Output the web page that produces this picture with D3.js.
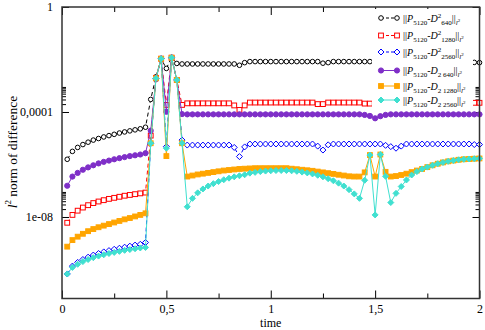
<!DOCTYPE html>
<html>
<head>
<meta charset="utf-8">
<script src="https://cdn.jsdelivr.net/npm/d3@7"></script>
<style>
  body { margin: 0; background: #fff; }
  svg text { font-family: "Liberation Serif", "Times New Roman", "DejaVu Serif", serif !important; }
</style>
</head>
<body>
<svg width="485" height="330"></svg>
<script>
// time steps
const times = [0.025, 0.05, 0.075, 0.1, 0.125, 0.15, 0.175, 0.2, 0.225, 0.25,
  0.275, 0.3, 0.325, 0.35, 0.375, 0.4, 0.425, 0.45, 0.475, 0.5,
  0.525, 0.55, 0.575, 0.6, 0.625, 0.65, 0.675, 0.7, 0.725, 0.75,
  0.775, 0.8, 0.825, 0.85, 0.875, 0.9, 0.925, 0.95, 0.975, 1.0,
  1.025, 1.05, 1.075, 1.1, 1.125, 1.15, 1.175, 1.2, 1.225, 1.25,
  1.275, 1.3, 1.325, 1.35, 1.375, 1.4, 1.425, 1.45, 1.475, 1.5,
  1.525, 1.55, 1.575, 1.6, 1.625, 1.65, 1.675, 1.7, 1.725, 1.75,
  1.775, 1.8, 1.825, 1.85, 1.875, 1.9, 1.925, 1.95, 1.975, 2.0];

// ||P5120 - D^2 640||
const dsq640 = [1.58e-6, 3.16e-6, 4.47e-6, 5.75e-6, 7.08e-6, 8.51e-6, 9.77e-6, 1.12e-5, 1.26e-5, 1.41e-5,
  1.58e-5, 1.74e-5, 1.91e-5, 2.09e-5, 2.29e-5, 2.63e-5, 3.02e-4, 2.19e-3, 1.05e-2, 4.57e-3,
  1.20e-2, 7.08e-3, 6.76e-3, 6.76e-3, 6.76e-3, 6.76e-3, 6.76e-3, 6.76e-3, 6.76e-3, 6.76e-3,
  6.76e-3, 6.76e-3, 6.76e-3, 6.03e-3, 7.59e-3, 8.32e-3, 8.32e-3, 8.32e-3, 8.32e-3, 8.32e-3,
  8.32e-3, 8.32e-3, 8.32e-3, 8.32e-3, 8.32e-3, 8.32e-3, 8.32e-3, 8.32e-3, 8.32e-3, 7.24e-3,
  7.59e-3, 8.32e-3, 8.32e-3, 8.32e-3, 8.32e-3, 8.32e-3, 8.32e-3, 8.32e-3, 8.32e-3, 8.32e-3,
  8.32e-3, 8.32e-3, 8.32e-3, 8.32e-3, 8.32e-3, 8.32e-3, 8.32e-3, 8.32e-3, 8.32e-3, 8.32e-3,
  8.32e-3, 8.32e-3, 8.32e-3, 8.32e-3, 8.32e-3, 8.32e-3, 8.32e-3, 8.32e-3, 7.76e-3, 7.59e-3];

// ||P5120 - D^2 1280||
const dsq1280 = [6.03e-9, 1.20e-8, 1.74e-8, 2.29e-8, 2.82e-8, 3.39e-8, 3.89e-8, 4.37e-8, 4.90e-8, 5.37e-8,
  5.89e-8, 6.46e-8, 6.92e-8, 7.41e-8, 7.94e-8, 8.51e-8, 1.26e-5, 2.00e-3, 1.07e-2, 1.86e-4,
  1.17e-2, 1.66e-3, 1.86e-4, 2.14e-4, 2.14e-4, 2.14e-4, 2.14e-4, 2.14e-4, 2.14e-4, 2.14e-4,
  2.14e-4, 2.14e-4, 1.78e-4, 1.20e-4, 1.78e-4, 2.29e-4, 2.29e-4, 2.29e-4, 2.29e-4, 2.29e-4,
  2.29e-4, 2.29e-4, 2.29e-4, 2.29e-4, 2.29e-4, 2.29e-4, 2.29e-4, 2.29e-4, 2.00e-4, 2.00e-4,
  2.29e-4, 2.29e-4, 2.29e-4, 2.29e-4, 2.29e-4, 2.29e-4, 2.29e-4, 2.09e-4, 2.09e-4, 2.24e-4,
  2.24e-4, 2.24e-4, 2.24e-4, 2.24e-4, 2.24e-4, 2.24e-4, 2.24e-4, 2.24e-4, 2.24e-4, 2.24e-4,
  2.24e-4, 2.24e-4, 2.24e-4, 2.24e-4, 2.24e-4, 2.24e-4, 2.24e-4, 2.24e-4, 2.24e-4, 2.24e-4];

// ||P5120 - D^2 2560||
const dsq2560 = [6.76e-11, 1.35e-10, 1.86e-10, 2.40e-10, 2.95e-10, 3.55e-10, 4.07e-10, 4.68e-10, 5.25e-10, 5.89e-10,
  6.46e-10, 7.08e-10, 7.76e-10, 8.51e-10, 9.12e-10, 1.07e-9, 6.46e-6, 1.91e-3, 1.07e-2, 4.79e-6,
  1.17e-2, 1.66e-3, 8.51e-6, 5.50e-6, 5.50e-6, 5.50e-6, 5.50e-6, 5.50e-6, 5.50e-6, 5.50e-6,
  5.50e-6, 5.50e-6, 4.47e-6, 2.00e-6, 4.68e-6, 6.03e-6, 6.03e-6, 6.03e-6, 6.03e-6, 6.03e-6,
  6.03e-6, 6.03e-6, 6.03e-6, 6.03e-6, 6.03e-6, 6.03e-6, 6.03e-6, 6.03e-6, 5.01e-6, 3.55e-6,
  5.62e-6, 6.03e-6, 6.03e-6, 6.03e-6, 6.03e-6, 6.03e-6, 6.03e-6, 6.03e-6, 6.03e-6, 6.03e-6,
  6.03e-6, 5.37e-6, 4.79e-6, 4.17e-6, 5.01e-6, 6.03e-6, 6.03e-6, 6.03e-6, 6.03e-6, 6.03e-6,
  6.03e-6, 6.03e-6, 6.03e-6, 6.03e-6, 6.03e-6, 6.03e-6, 6.03e-6, 6.03e-6, 5.75e-6, 5.75e-6];

// ||P5120 - D_2 640||
const d2_640 = [1.55e-7, 3.47e-7, 4.79e-7, 6.31e-7, 7.76e-7, 9.33e-7, 1.10e-6, 1.26e-6, 1.41e-6, 1.58e-6,
  1.74e-6, 1.91e-6, 2.09e-6, 2.24e-6, 2.40e-6, 2.69e-6, 1.95e-5, 1.78e-3, 1.07e-2, 1.02e-4,
  1.17e-2, 1.66e-3, 8.32e-5, 8.13e-5, 8.13e-5, 8.13e-5, 8.13e-5, 8.13e-5, 8.13e-5, 8.13e-5,
  8.13e-5, 8.13e-5, 8.13e-5, 8.13e-5, 8.13e-5, 8.13e-5, 8.13e-5, 8.13e-5, 8.13e-5, 8.13e-5,
  8.13e-5, 8.13e-5, 8.13e-5, 8.13e-5, 8.13e-5, 8.13e-5, 8.13e-5, 8.13e-5, 8.13e-5, 8.13e-5,
  8.13e-5, 8.13e-5, 8.13e-5, 8.13e-5, 8.13e-5, 8.13e-5, 8.13e-5, 7.76e-5, 7.08e-5, 5.75e-5,
  6.92e-5, 7.76e-5, 8.13e-5, 8.13e-5, 8.13e-5, 8.13e-5, 8.13e-5, 8.13e-5, 8.13e-5, 8.13e-5,
  8.13e-5, 8.13e-5, 8.13e-5, 8.13e-5, 8.13e-5, 8.13e-5, 8.13e-5, 8.13e-5, 8.13e-5, 8.13e-5];

// ||P5120 - D_2 1280||
const d2_1280 = [7.41e-10, 1.32e-9, 1.78e-9, 2.29e-9, 2.88e-9, 3.47e-9, 4.07e-9, 4.68e-9, 5.37e-9, 6.17e-9,
  7.08e-9, 8.13e-9, 9.12e-9, 1.05e-8, 1.20e-8, 1.38e-8, 6.46e-6, 1.91e-3, 1.07e-2, 2.09e-6,
  1.17e-2, 1.66e-3, 6.46e-6, 3.47e-7, 3.80e-7, 4.17e-7, 4.47e-7, 4.79e-7, 5.13e-7, 5.50e-7,
  5.89e-7, 6.17e-7, 6.46e-7, 6.76e-7, 6.92e-7, 7.08e-7, 7.24e-7, 7.24e-7, 7.24e-7, 7.24e-7,
  7.24e-7, 7.24e-7, 7.24e-7, 6.92e-7, 6.61e-7, 6.31e-7, 6.03e-7, 5.75e-7, 5.37e-7, 5.01e-7,
  4.68e-7, 4.37e-7, 4.07e-7, 3.80e-7, 3.55e-7, 3.47e-7, 3.47e-7, 5.01e-7, 2.29e-6, 3.47e-7,
  2.40e-6, 5.25e-7, 3.47e-7, 3.63e-7, 3.98e-7, 4.47e-7, 5.13e-7, 5.89e-7, 6.76e-7, 7.94e-7,
  9.33e-7, 1.07e-6, 1.20e-6, 1.32e-6, 1.41e-6, 1.51e-6, 1.58e-6, 1.62e-6, 1.66e-6, 1.70e-6];

// ||P5120 - D_2 2560||
const d2_2560 = [6.76e-11, 1.20e-10, 1.58e-10, 2.00e-10, 2.40e-10, 2.82e-10, 3.24e-10, 3.63e-10, 4.07e-10, 4.47e-10,
  4.90e-10, 5.37e-10, 5.75e-10, 6.17e-10, 6.61e-10, 6.92e-10, 6.46e-6, 1.91e-3, 1.07e-2, 4.17e-6,
  1.17e-2, 1.66e-3, 6.46e-6, 2.45e-8, 5.13e-8, 8.32e-8, 1.17e-7, 1.51e-7, 1.86e-7, 2.24e-7,
  2.63e-7, 3.02e-7, 3.39e-7, 3.72e-7, 4.07e-7, 4.68e-7, 5.01e-7, 5.37e-7, 5.62e-7, 5.75e-7,
  5.89e-7, 5.89e-7, 5.89e-7, 5.75e-7, 5.50e-7, 5.13e-7, 4.79e-7, 4.37e-7, 3.89e-7, 3.39e-7,
  2.88e-7, 2.40e-7, 1.95e-7, 1.51e-7, 1.10e-7, 7.59e-8, 5.13e-8, 2.51e-7, 2.29e-6, 1.20e-8,
  2.40e-6, 3.55e-7, 3.55e-8, 7.94e-8, 1.45e-7, 2.57e-7, 3.98e-7, 5.37e-7, 6.76e-7, 7.94e-7,
  9.33e-7, 1.07e-6, 1.20e-6, 1.32e-6, 1.41e-6, 1.51e-6, 1.58e-6, 1.62e-6, 1.66e-6, 1.70e-6];

const xTicks = [0, 0.5, 1, 1.5, 2];
const xTickLabels = ["0", "0,5", "1", "1,5", "2"];
const yTicks = [1, 1e-4, 1e-8];
const yTickLabels = ["1", "0,0001", "1e-08"];

const legendSub = ["640", "1280", "2560", "2 640", "2 1280", "2 2560"];
const legendSup = ["2", "2", "2", "", "", ""];

const series = [
  {values: dsq640,  color: "#000000", dash: "4,3", shape: "circle",  fill: false},
  {values: dsq1280, color: "#ff0000", dash: "4,3", shape: "square",  fill: false},
  {values: dsq2560, color: "#0000ff", dash: "4,3", shape: "diamond", fill: false},
  {values: d2_640,  color: "#7f2fc8", dash: null,  shape: "circle",  fill: true},
  {values: d2_1280, color: "#ffa500", dash: null,  shape: "square",  fill: true},
  {values: d2_2560, color: "#40e0d0", dash: null,  shape: "diamond", fill: true}
];

const serif = "'Liberation Serif', 'Times New Roman', 'DejaVu Serif', serif";
const svg = d3.select("svg").style("font-family", serif);
const plotL = 62, plotR = 479.5, plotT = 7, plotB = 298.5;

const x = d3.scaleLinear().domain([0, 2]).range([plotL, plotR]);
const y = d3.scaleLog().domain([7.85e-12, 1]).range([plotB, plotT]);

const minorX = [0.25, 0.75, 1.25, 1.75];
const minorY = [];
[1e-4, 1e-8].forEach(b => { for (let k = 2; k <= 9; k++) minorY.push(b * k); });

function noDomain(g) { g.select(".domain").remove(); g.attr("font-family", null); }

// bottom axis
svg.append("g").attr("transform", `translate(0,${plotB})`)
  .call(d3.axisBottom(x).tickValues(xTicks).tickFormat((d, i) => xTickLabels[i])
    .tickSizeInner(-8).tickSizeOuter(0).tickPadding(5.5))
  .call(noDomain)
  .call(g => g.selectAll("text").attr("font-size", 12).attr("fill", "#000"));
svg.append("g").attr("transform", `translate(0,${plotB})`)
  .call(d3.axisBottom(x).tickValues(minorX).tickFormat("").tickSizeInner(-5).tickSizeOuter(0))
  .call(noDomain);

// top mirrored
svg.append("g").attr("transform", `translate(0,${plotT})`)
  .call(d3.axisTop(x).tickValues(xTicks).tickFormat("").tickSizeInner(-8).tickSizeOuter(0))
  .call(noDomain);
svg.append("g").attr("transform", `translate(0,${plotT})`)
  .call(d3.axisTop(x).tickValues(minorX).tickFormat("").tickSizeInner(-5).tickSizeOuter(0))
  .call(noDomain);

// left axis
svg.append("g").attr("transform", `translate(${plotL},0)`)
  .call(d3.axisLeft(y).tickValues(yTicks).tickFormat((d, i) => yTickLabels[i])
    .tickSizeInner(-7).tickSizeOuter(0).tickPadding(9))
  .call(noDomain)
  .call(g => g.selectAll("text").attr("font-size", 12).attr("fill", "#000"));
svg.append("g").attr("transform", `translate(${plotL},0)`)
  .call(d3.axisLeft(y).tickValues(minorY).tickFormat("").tickSizeInner(-4).tickSizeOuter(0))
  .call(noDomain);

// right mirrored
svg.append("g").attr("transform", `translate(${plotR},0)`)
  .call(d3.axisRight(y).tickValues(yTicks).tickFormat("").tickSizeInner(-7).tickSizeOuter(0))
  .call(noDomain);
svg.append("g").attr("transform", `translate(${plotR},0)`)
  .call(d3.axisRight(y).tickValues(minorY).tickFormat("").tickSizeInner(-4).tickSizeOuter(0))
  .call(noDomain);

svg.selectAll(".tick line").attr("stroke", "#000").attr("stroke-width", 1);

// axis titles
svg.append("text").attr("x", (plotL + plotR) / 2).attr("y", 327)
  .attr("text-anchor", "middle").attr("font-size", 12).text("time");

const yl = svg.append("text")
  .attr("transform", "translate(16.5,152) rotate(-90)")
  .attr("text-anchor", "middle").attr("font-size", 13.5);
yl.append("tspan").attr("font-style", "italic").text("l");
yl.append("tspan").attr("font-size", 9).attr("dy", -6).text("2");
yl.append("tspan").attr("dy", 6).text(" norm of difference");

// markers
function drawMarker(g, shape, cx, cy, s) {
  const c = s.color;
  let m;
  if (shape === "circle") {
    m = g.append("circle").attr("cx", cx).attr("cy", cy).attr("r", s.fill ? 2.6 : 2.3);
  } else if (shape === "square") {
    m = g.append("rect").attr("x", cx - 2.4).attr("y", cy - 2.4).attr("width", 4.8).attr("height", 4.8);
  } else {
    const r = 3.0;
    m = g.append("path").attr("d", `M${cx},${cy - r}L${cx + r},${cy}L${cx},${cy + r}L${cx - r},${cy}Z`);
  }
  m.attr("fill", s.fill ? c : "#fff").attr("stroke", c).attr("stroke-width", 1);
}

const line = d3.line().x((d, i) => x(times[i])).y(d => y(d));

series.forEach(s => {
  const g = svg.append("g");
  g.append("path").datum(s.values)
    .attr("d", line)
    .attr("fill", "none")
    .attr("stroke", s.color)
    .attr("stroke-width", 1)
    .attr("stroke-dasharray", s.dash);
  s.values.forEach((v, i) => drawMarker(g, s.shape, x(times[i]), y(v), s));
});

// legend, on an opaque white patch like the original
svg.append("rect").attr("x", 372).attr("y", 9).attr("width", 101).attr("height", 98)
  .attr("fill", "#fff");

const legendRows = [18, 35.5, 52, 70.5, 86, 100];
series.forEach((s, i) => {
  const g = svg.append("g");
  const ly = legendRows[i];
  g.append("line").attr("x1", 381).attr("x2", 397).attr("y1", ly).attr("y2", ly)
    .attr("stroke", s.color).attr("stroke-width", 1).attr("stroke-dasharray", s.dash ? "3,2" : null);
  drawMarker(g, s.shape, 381, ly, s);
  drawMarker(g, s.shape, 397, ly, s);

  const t = g.append("text").attr("x", 403).attr("y", ly + 3.5).attr("font-size", 10);
  t.append("tspan").text("||");
  t.append("tspan").attr("font-style", "italic").text("P");
  t.append("tspan").attr("font-size", 7).attr("dy", 3).text("5120");
  t.append("tspan").attr("dy", -3).text("-");
  t.append("tspan").attr("font-style", "italic").text("D");
  if (legendSup[i]) {
    t.append("tspan").attr("font-size", 7).attr("dy", -4).text(legendSup[i]);
    t.append("tspan").attr("font-size", 7).attr("dy", 7).text(legendSub[i]);
    t.append("tspan").attr("dy", -3).text("||");
  } else {
    t.append("tspan").attr("font-size", 7).attr("dy", 3).text(legendSub[i]);
    t.append("tspan").attr("dy", -3).text("||");
  }
  t.append("tspan").attr("font-size", 7).attr("font-style", "italic").attr("dy", 3).text("l");
  t.append("tspan").attr("font-size", 5).attr("dy", -3).text("2");
});

// frame on top
svg.append("rect")
  .attr("x", plotL).attr("y", plotT)
  .attr("width", plotR - plotL).attr("height", plotB - plotT)
  .attr("fill", "none").attr("stroke", "#333").attr("stroke-width", 1.5);
</script>
</body>
</html>
